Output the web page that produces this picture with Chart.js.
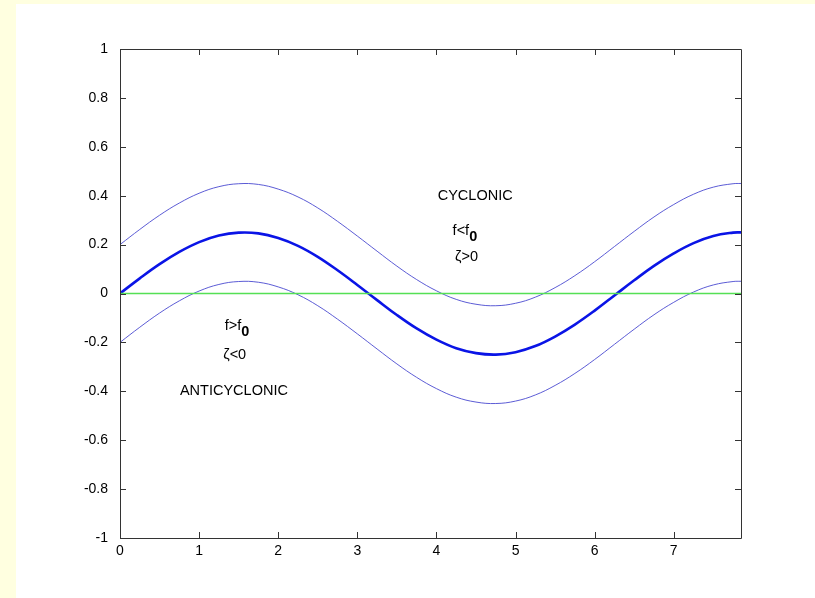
<!DOCTYPE html>
<html>
<head>
<meta charset="utf-8">
<script src="https://cdn.jsdelivr.net/npm/chart.js@4"></script>
<style>
  html, body { margin: 0; padding: 0; background: #ffffe0; width: 815px; height: 598px; overflow: hidden; }
  #wrap { position: absolute; left: 16px; top: 4px; width: 799px; height: 594px; background: #fff; }
</style>
</head>
<body>
<div id="wrap"><canvas id="chart" width="799" height="594"></canvas></div>
<script>
// values
const xs = [0, 0.25, 0.5, 0.75, 1, 1.25, 1.5, 1.75, 2, 2.25, 2.5, 2.75, 3, 3.25, 3.5, 3.75,
            4, 4.25, 4.5, 4.75, 5, 5.25, 5.5, 5.75, 6, 6.25, 6.5, 6.75, 7, 7.25, 7.5, 7.75, 7.85];
const middle = [0, 0.062, 0.12, 0.17, 0.21, 0.237, 0.249, 0.246, 0.227, 0.195, 0.15, 0.095, 0.035, -0.027, -0.088, -0.143,
                -0.189, -0.224, -0.244, -0.25, -0.24, -0.215, -0.176, -0.127, -0.07, -0.008, 0.054, 0.113, 0.164, 0.206, 0.235, 0.249, 0.25];
const upper = [0.2, 0.262, 0.32, 0.37, 0.41, 0.437, 0.449, 0.446, 0.427, 0.395, 0.35, 0.295, 0.235, 0.173, 0.112, 0.057,
               0.011, -0.024, -0.044, -0.05, -0.04, -0.015, 0.024, 0.073, 0.13, 0.192, 0.254, 0.313, 0.364, 0.406, 0.435, 0.449, 0.45];
const lower = [-0.2, -0.138, -0.08, -0.03, 0.01, 0.037, 0.049, 0.046, 0.027, -0.005, -0.05, -0.105, -0.165, -0.227, -0.288, -0.343,
               -0.389, -0.424, -0.444, -0.45, -0.44, -0.415, -0.376, -0.327, -0.27, -0.208, -0.146, -0.087, -0.036, 0.006, 0.035, 0.049, 0.05];
const zeroX = [0, 7.85];
const zeroY = [0, 0];
const xTicks = [0, 1, 2, 3, 4, 5, 6, 7];
const yTicks = [-1, -0.8, -0.6, -0.4, -0.2, 0, 0.2, 0.4, 0.6, 0.8, 1];

// text labels: [text, subscript, x, y]
const notes = [
  ['CYCLONIC', '', 4.49, 0.40],
  ['f<f', '0', 4.36, 0.255],
  ['\u03B6>0', '', 4.38, 0.148],
  ['f>f', '0', 1.48, -0.132],
  ['\u03B6<0', '', 1.45, -0.25],
  ['ANTICYCLONIC', '', 1.44, -0.40]
];

const pts = (a, b) => a.map((x, i) => ({ x: x, y: b[i] }));
const FONT = '"Liberation Sans", Arial, sans-serif';

const boxPlugin = {
  id: 'box',
  afterDraw(chart) {
    const ctx = chart.ctx;
    const { left, right, top, bottom } = chart.chartArea;
    const sx = chart.scales.x, sy = chart.scales.y;
    ctx.save();
    ctx.strokeStyle = '#333';
    ctx.lineWidth = 1;
    ctx.beginPath();
    ctx.rect(Math.round(left) + 0.5, Math.round(top) + 0.5, Math.round(right - left), Math.round(bottom - top));
    xTicks.forEach(v => {
      const px = Math.round(sx.getPixelForValue(v)) + 0.5;
      ctx.moveTo(px, bottom); ctx.lineTo(px, bottom - 6);
      ctx.moveTo(px, top); ctx.lineTo(px, top + 6);
    });
    yTicks.forEach(v => {
      const py = Math.round(sy.getPixelForValue(v)) + 0.5;
      ctx.moveTo(left, py); ctx.lineTo(left + 6, py);
      ctx.moveTo(right, py); ctx.lineTo(right - 6, py);
    });
    ctx.stroke();

    ctx.fillStyle = '#000';
    ctx.textBaseline = 'middle';
    notes.forEach(n => {
      const px = sx.getPixelForValue(n[2]);
      const py = sy.getPixelForValue(n[3]);
      ctx.font = '14.5px ' + FONT;
      const w1 = ctx.measureText(n[0]).width;
      ctx.font = 'bold 14.5px ' + FONT;
      const w2 = n[1] ? ctx.measureText(n[1]).width : 0;
      let x0 = px - (w1 + w2) / 2;
      ctx.font = '14.5px ' + FONT;
      ctx.textAlign = 'left';
      ctx.fillText(n[0], x0, py);
      if (n[1]) {
        ctx.font = 'bold 14.5px ' + FONT;
        ctx.fillText(n[1], x0 + w1, py + 6);
      }
    });
    ctx.restore();
  }
};

new Chart(document.getElementById('chart'), {
  type: 'line',
  data: {
    datasets: [
      { data: pts(zeroX, zeroY), borderColor: '#55e055', borderWidth: 1.3, pointRadius: 0 },
      { data: pts(xs, upper), borderColor: '#4a4ad0', borderWidth: 0.9, pointRadius: 0, tension: 0.4 },
      { data: pts(xs, lower), borderColor: '#4a4ad0', borderWidth: 0.9, pointRadius: 0, tension: 0.4 },
      { data: pts(xs, middle), borderColor: '#0a14e6', borderWidth: 2.6, pointRadius: 0, tension: 0.4 }
    ]
  },
  options: {
    responsive: false,
    animation: false,
    events: [],
    layout: { padding: { left: 0, right: 74, top: 45, bottom: 0 } },
    plugins: { legend: { display: false }, tooltip: { enabled: false } },
    scales: {
      x: {
        type: 'linear',
        min: 0, max: 7.85,
        afterBuildTicks: s => { s.ticks = xTicks.map(v => ({ value: v })); },
        afterFit: s => { s.height = 60; },
        grid: { display: false },
        border: { display: false },
        ticks: { padding: -3, color: '#000', font: { family: FONT, size: 14 }, maxRotation: 0 }
      },
      y: {
        type: 'linear',
        min: -1, max: 1,
        afterBuildTicks: s => { s.ticks = yTicks.map(v => ({ value: v })); },
        afterFit: s => { s.width = 104; },
        grid: { display: false },
        border: { display: false },
        ticks: { padding: 4, color: '#000', font: { family: FONT, size: 14 }, callback: v => String(Math.round(v * 10) / 10) }
      }
    }
  },
  plugins: [boxPlugin]
});
</script>
</body>
</html>
